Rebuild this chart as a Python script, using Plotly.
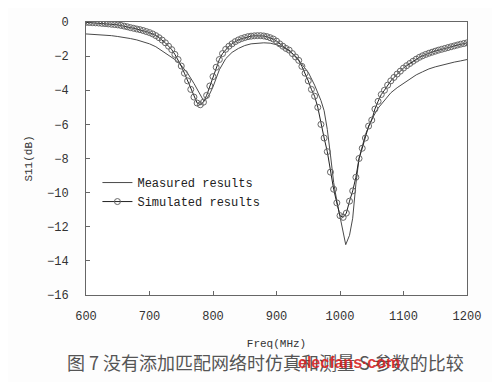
import plotly.graph_objects as go

# Simulated results (5 MHz steps)
sim_freq = list(range(600, 1205, 5))
sim_s11 = [
    -0.02, -0.03, -0.04, -0.05, -0.06, -0.08, -0.09, -0.11, -0.13, -0.15,
    -0.17, -0.20, -0.24, -0.28, -0.33, -0.37, -0.41, -0.45, -0.50, -0.56,
    -0.62, -0.70, -0.80, -0.92, -1.06, -1.22, -1.42, -1.62, -1.90, -2.20,
    -2.58, -3.00, -3.45, -3.95, -4.40, -4.75, -4.85, -4.70, -4.30, -3.75,
    -3.20, -2.65, -2.20, -1.85, -1.60, -1.42, -1.28, -1.15, -1.05, -0.97,
    -0.91, -0.86, -0.83, -0.81, -0.80, -0.80, -0.82, -0.86, -0.92, -1.00,
    -1.12, -1.28, -1.42, -1.55, -1.65, -1.85, -2.05, -2.25, -2.60, -3.00,
    -3.45, -3.95, -4.35, -5.00, -6.00, -6.80, -7.60, -8.80, -9.80, -10.60,
    -11.35, -11.45, -11.20, -10.50, -9.90, -9.10, -8.00, -7.40, -6.80, -6.10,
    -5.75, -5.10, -4.65, -4.25, -4.00, -3.70, -3.45, -3.25, -3.05, -2.88,
    -2.70, -2.56, -2.43, -2.30, -2.18, -2.07, -1.98, -1.90, -1.83, -1.77,
    -1.71, -1.65, -1.60, -1.55, -1.50, -1.45, -1.40, -1.35, -1.30, -1.26,
    -1.22,
]

# Measured results
meas_freq = [600, 610, 620, 630, 640, 650, 660, 670, 680, 690, 700, 710, 720, 730,
             740, 750, 760, 770, 780, 785, 790, 795, 800, 810, 820, 830, 840, 850,
             860, 870, 880, 890, 900, 910, 920, 930, 940, 950, 960, 970, 975, 980,
             985, 990, 995, 1000, 1005, 1009, 1015, 1020, 1025, 1030, 1040, 1050,
             1060, 1070, 1080, 1090, 1100, 1110, 1120, 1130, 1140, 1150, 1160,
             1170, 1180, 1190, 1200]
meas_s11 = [-0.70, -0.72, -0.75, -0.78, -0.80, -0.85, -0.90, -0.97, -1.05, -1.15,
            -1.28, -1.45, -1.70, -1.90, -2.20, -2.55, -3.00, -3.60, -4.30, -4.60,
            -4.50, -4.20, -3.80, -2.80, -2.15, -1.78, -1.55, -1.38, -1.28, -1.24,
            -1.22, -1.24, -1.33, -1.47, -1.70, -2.00, -2.45, -2.95, -3.70, -4.60,
            -5.20, -6.30, -7.80, -9.40, -10.50, -11.40, -12.20, -13.05, -12.50,
            -11.50, -9.50, -8.00, -6.60, -5.70, -5.05, -4.60, -4.15, -3.85, -3.60,
            -3.30, -3.10, -2.92, -2.75, -2.63, -2.53, -2.44, -2.35, -2.28, -2.20]

x_ticks = [600, 700, 800, 900, 1000, 1100, 1200]
y_ticks = [0, -2, -4, -6, -8, -10, -12, -14, -16]

caption = "图 7 没有添加匹配网络时仿真和测量 S 参数的比较"

mono = "Liberation Mono, DejaVu Sans Mono, monospace"

fig = go.Figure()
fig.add_trace(go.Scatter(
    x=meas_freq, y=meas_s11, mode="lines", name="Measured results",
    line=dict(color="#4a4a4a", width=1),
))
fig.add_trace(go.Scatter(
    x=sim_freq, y=sim_s11, mode="lines+markers", name="Simulated results",
    line=dict(color="#222222", width=1),
    marker=dict(symbol="circle-open", size=6, color="#666666", line=dict(width=1)),
))

# Page body has an 8px margin; figure is sized to fit inside 500x382 window.
fig.update_layout(
    width=492, height=374,
    margin=dict(l=78, r=33, t=8, b=87),
    paper_bgcolor="#fdfdfd", plot_bgcolor="#ffffff",
    font=dict(family=mono, size=12, color="#333333"),
    showlegend=True,
    legend=dict(x=0.03, y=0.465, xanchor="left", yanchor="top",
                bgcolor="rgba(0,0,0,0)", font=dict(family=mono, size=12, color="#222"),
                tracegroupgap=0),
    xaxis=dict(range=[600, 1200], tickvals=x_ticks, ticks="inside", ticklen=4,
               showgrid=False, zeroline=False, showline=True, linecolor="#666",
               linewidth=1, mirror=True, tickcolor="#666", ticklabelstandoff=10,
               title=dict(text="Freq(MHz)", standoff=15, font=dict(size=11)),
               tickfont=dict(size=12)),
    yaxis=dict(range=[-16, 0], tickvals=y_ticks, ticks="inside", ticklen=4,
               showgrid=False, zeroline=False, showline=True, linecolor="#666",
               linewidth=1, mirror=True, tickcolor="#666", ticklabelstandoff=14,
               title=dict(text="S11(dB)", standoff=12, font=dict(size=11)),
               tickfont=dict(size=12)),
)

fig.add_annotation(
    text=caption, xref="paper", yref="paper", x=0.47, y=-0.246,
    xanchor="center", yanchor="middle", showarrow=False,
    font=dict(family="Noto Sans CJK SC", size=18, color="#555555"),
)
fig.add_annotation(
    text="<b>elecfans·com</b>", xref="paper", yref="paper", x=0.69, y=-0.246,
    xanchor="center", yanchor="middle", showarrow=False,
    font=dict(family="Arial, Liberation Sans, sans-serif", size=16, color="rgba(215,30,30,0.9)"),
)

fig.write_html("out.html")
